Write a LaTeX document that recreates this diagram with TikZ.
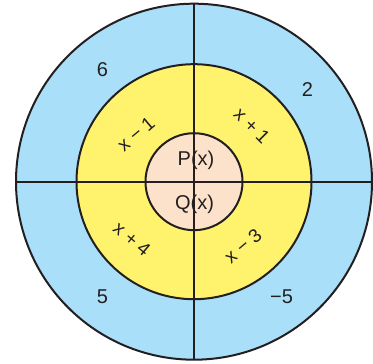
\documentclass[tikz,border=0pt]{standalone}
\usepackage{fontspec}
\setmainfont{Liberation Sans}
\usetikzlibrary{calc}
\definecolor{outerblue}{HTML}{A9DFF8}
\definecolor{ringyellow}{HTML}{FFF36E}
\definecolor{corepeach}{HTML}{FDE2CB}
\definecolor{inkline}{HTML}{231F20}
\tikzset{
  divline/.style={draw=inkline, line width=2pt},
  lbl/.style={inner sep=0pt, text=inkline, font=\fontsize{20}{24}\selectfont},
  rlbl/.style={inner sep=0pt, text=inkline, font=\fontsize{19}{23}\selectfont}
}
\begin{document}
\begin{tikzpicture}[x=1pt,y=1pt]
\useasboundingbox (0,0) rectangle (373,364);
\coordinate (c) at (194,182.3);
\fill[outerblue] (c) circle (178);
\fill[ringyellow] (c) circle (117.5);
\fill[corepeach] (c) circle (48.5);
\coordinate (L) at ($(c)+(-178,0)$);
\coordinate (R) at ($(c)+(178,0)$);
\coordinate (T) at ($(c)+(0,178)$);
\coordinate (B) at ($(c)+(0,-178)$);
\draw[divline] (L) -- (R);
\draw[divline] (T) -- (B);
\draw[divline] (c) circle (178);
\draw[divline] (c) circle (117.5);
\draw[divline] (c) circle (48.5);
% outer numbers
\node[lbl] (n6) at (102.5,294.5) {6};
\node[lbl] (n2) at (307.5,274) {2};
\node[lbl] (n5) at (102.5,67.5) {5};
\node[lbl] (nm5) at (281.5,67.5) {−5};
% ring labels
\node[rlbl, rotate=40] (xm1) at (136,230) {x − 1};
\node[rlbl, rotate=-45] (xp1) at (252,238) {x + 1};
\node[rlbl, rotate=-40] (xp4) at (132,125) {x + 4};
\node[rlbl, rotate=40] (xm3) at (243,118) {x − 3};
% core
\node[lbl] (P) at (196,203.5) {P(x)};
\node[lbl] (Q) at (194.5,160) {Q(x)};
\end{tikzpicture}
\end{document}
